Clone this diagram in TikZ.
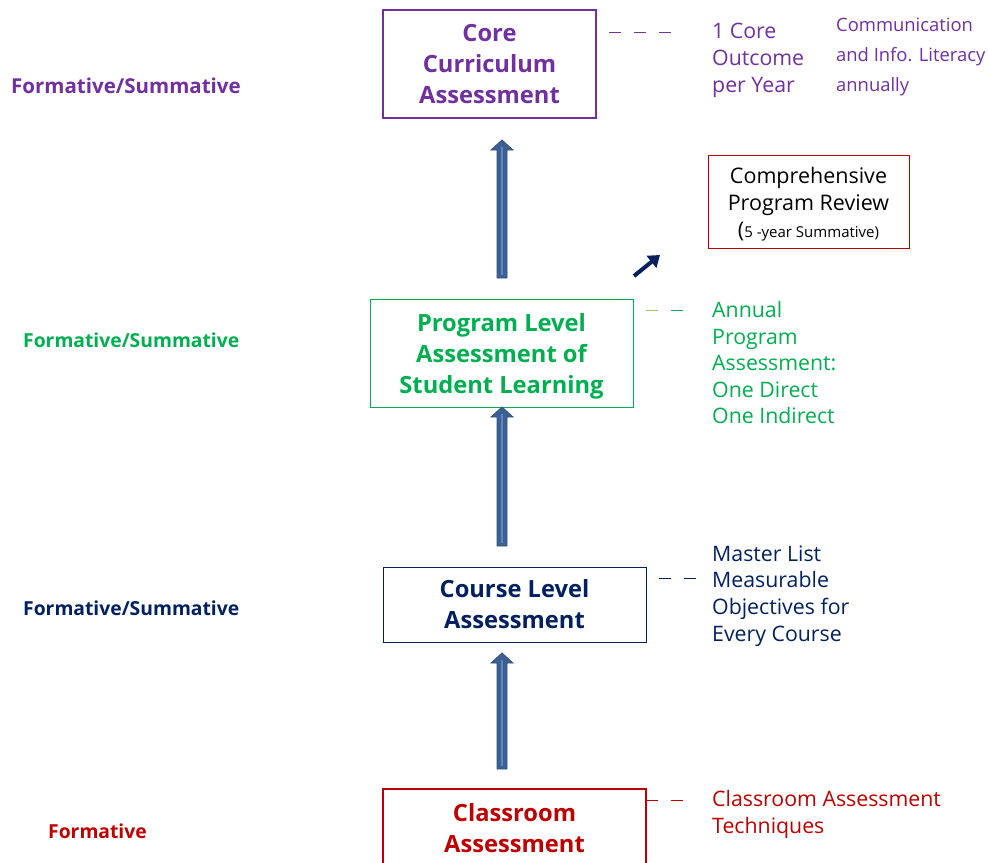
\documentclass[tikz,border=0pt]{standalone}
\usepackage{fontspec}
\setmainfont{Open Sans}
\usetikzlibrary{arrows.meta}
\definecolor{cpurple}{HTML}{7030A0}
\definecolor{cgreen}{HTML}{00B050}
\definecolor{clgreen}{HTML}{92D050}
\definecolor{cnavy}{HTML}{002060}
\definecolor{cred}{HTML}{C00000}
\definecolor{arrowfill}{HTML}{3C6091}
\definecolor{arrowstripe}{HTML}{5A88C2}
\tikzset{
  box/.style={draw, line width=1.3pt, align=center, inner sep=0pt,
    font=\fontsize{23.7}{31}\selectfont\bfseries},
  boxtext/.style={align=center, inner sep=0pt,
    font=\fontsize{23.7}{31}\selectfont\bfseries},
  sidetext/.style={anchor=west, align=left, inner sep=0pt,
    font=\fontsize{21.3}{27}\selectfont},
  leftlabel/.style={anchor=west, inner sep=0pt, font=\fontsize{19.3}{24}\selectfont\bfseries},
  dashline/.style={line width=1pt, dash pattern=on 12pt off 13pt},
  pics/blockup/.style={code={
    \filldraw[fill=arrowfill, draw=arrowfill!85!black, line width=0.8pt]
      (-5,0) -- (-5,-#1) -- (-11,-#1) -- (0,-#1-10) -- (11,-#1) -- (5,-#1) -- (5,0) -- cycle;
    \draw[arrowstripe, line width=2pt] (0,-3) -- (0,-#1-3);
  }}
}
\begin{document}
\begin{tikzpicture}[x=1pt,y=-1pt]
\useasboundingbox (0,0) rectangle (989,863);

% main boxes
\node[box, draw=cpurple, text=cpurple, minimum width=213, minimum height=108] (core) at (489.5,64)
  {Core\\Curriculum\\Assessment};
\node[box, draw=cgreen, line width=1pt, minimum width=263, minimum height=108] (prog) at (501.5,353) {};
\node[boxtext, text=cgreen] (progtext) at (501.5,356.5)
  {Program Level\\Assessment of\\Student Learning};
\node[box, draw=cnavy, text=cnavy, line width=1pt, minimum width=263, minimum height=75] (course) at (514.5,604.5)
  {Course Level\\Assessment};
\node[box, draw=cred, text=cred, minimum width=263, minimum height=79] (class) at (514.5,828.5)
  {Classroom\\Assessment};

% comprehensive review box
\node[draw=cred, line width=1pt, minimum width=201, minimum height=93, inner sep=0pt] (comp) at (808.5,201.5) {};
\node[align=center, inner sep=0pt, font=\fontsize{21.5}{27}\selectfont] (comptext) at (808.5,204)
  {Comprehensive\\Program Review\\(\fontsize{15}{27}\selectfont5 -year Summative)};

% block arrows
\coordinate (a1) at (502,278);
\coordinate (a2) at (502,546);
\coordinate (a3) at (502,769);
\pic at (a1) {blockup=128};
\pic at (a2) {blockup=129};
\pic at (a3) {blockup=106};

% small arrow
\coordinate (s1) at (634,276);
\coordinate (s2) at (660,255);
\draw[cnavy, line width=4pt, -{Triangle[length=11pt, width=15pt]}] (s1) -- (s2);

% dashes
\coordinate (d1a) at (609,32); \coordinate (d1b) at (672,32);
\draw[cpurple, dashline] (d1a) -- (d1b);
\coordinate (d2a) at (646,310); \coordinate (d2b) at (658,310);
\coordinate (d2c) at (671,310); \coordinate (d2d) at (683,310);
\draw[clgreen, line width=1pt] (d2a) -- (d2b);
\draw[cgreen, line width=1pt] (d2c) -- (d2d);
\coordinate (d3a) at (659,578); \coordinate (d3b) at (697,578);
\draw[cnavy, dashline] (d3a) -- (d3b);
\coordinate (d4a) at (646,800); \coordinate (d4b) at (683,800);
\draw[cred, dashline] (d4a) -- (d4b);

% side texts
\node[sidetext, text=cpurple] (t1) at (712,60) {1 Core\\Outcome\\per Year};
\node[sidetext, text=cpurple, font=\fontsize{18.4}{30}\selectfont] (t1b) at (836,57)
  {Communication\\and Info. Literacy\\annually};
\node[sidetext, text=cgreen, font=\fontsize{21.3}{26.5}\selectfont] (t2) at (712,363)
  {Annual\\Program\\Assessment:\\One Direct\\One Indirect};
\node[sidetext, text=cnavy, font=\fontsize{21.3}{26.7}\selectfont] (t3) at (712,596)
  {Master List\\Measurable\\Objectives for\\Every Course};
\node[sidetext, text=cred] (t4) at (712,814.5) {Classroom Assessment\\Techniques};

% left labels
\node[leftlabel, text=cpurple, font=\fontsize{20.5}{24}\selectfont\bfseries] (l1) at (11,86) {Formative/Summative};
\node[leftlabel, text=cgreen] (l2) at (23,340) {Formative/Summative};
\node[leftlabel, text=cnavy] (l3) at (23,608) {Formative/Summative};
\node[leftlabel, text=cred] (l4) at (48,831) {Formative};
\end{tikzpicture}
\end{document}
